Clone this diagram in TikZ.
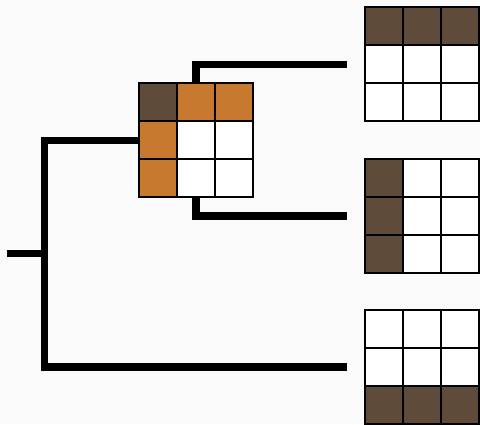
\documentclass[tikz,border=0pt]{standalone}
\usetikzlibrary{positioning}
\definecolor{bgcol}{HTML}{FAFAFA}
\definecolor{darkbrown}{HTML}{5F4B3A}
\definecolor{ochre}{HTML}{C77A2F}
\begin{document}
\begin{tikzpicture}[x=1pt, y=-1pt,
    gridbox/.style={minimum size=114pt, inner sep=0pt},
    cell/.style={draw=black, line width=2.2pt, fill=white, minimum size=38pt, inner sep=0pt},
    branch/.style={line width=7.6pt, black}]
        % background and frame
        \fill[bgcol] (0,0) rectangle (480,424);
        \useasboundingbox (0,0) rectangle (480,424);

        % grid positions
        \node[gridbox] (mid) at (196,140.5) {};
        \node[gridbox] (top) at (422,64.5) {};
        \node[gridbox] (side) at (422,216) {};
        \node[gridbox] (low) at (422,367) {};
        \coordinate (root) at (7,253.5);

        % --- tree branches ---
        \draw[branch] (root) -- (44.5,253.5);
        \draw[branch] (mid.west) -| (44.5,367) -- ([xshift=-18pt]low.west);
        \draw[branch] (mid.north) |- ([xshift=-18pt]top.west);
        \draw[branch] (mid.south) |- ([xshift=-18pt]side.west);

        % --- 3x3 cells ---
        \foreach \g in {mid,top,side,low}
            \foreach \c in {0,1,2}
                \foreach \r in {0,1,2}
                    \node[cell] at ([xshift={\c*38pt+19pt}, yshift={-\r*38pt-19pt}]\g.north west) {};

        % coloured cells: grid/column/row/colour
        \foreach \g/\c/\r/\col in {mid/0/0/darkbrown, mid/1/0/ochre, mid/2/0/ochre, mid/0/1/ochre, mid/0/2/ochre,
                top/0/0/darkbrown, top/1/0/darkbrown, top/2/0/darkbrown,
                side/0/0/darkbrown, side/0/1/darkbrown, side/0/2/darkbrown,
                low/0/2/darkbrown, low/1/2/darkbrown, low/2/2/darkbrown}
            \node[cell, fill=\col] at ([xshift={\c*38pt+19pt}, yshift={-\r*38pt-19pt}]\g.north west) {};

    \end{tikzpicture}
\end{document}
